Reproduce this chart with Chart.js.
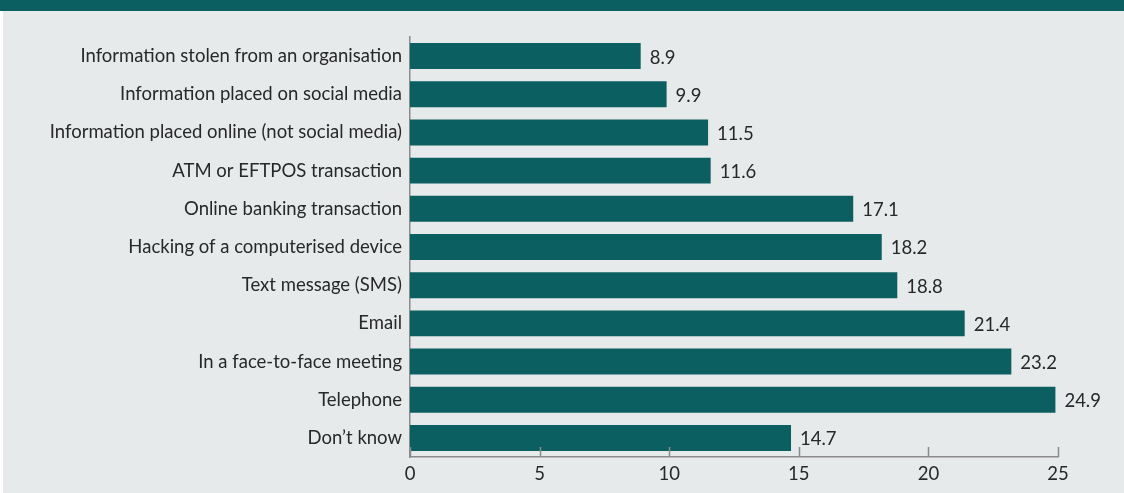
<!DOCTYPE html>
<html>
<head>
<meta charset="utf-8">
<script src="https://cdn.jsdelivr.net/npm/chart.js@4.4.1/dist/chart.umd.min.js"></script>
<style>
  html, body { margin: 0; padding: 0; background: #ffffff; }
  #frame { position: relative; width: 1124px; height: 493px; overflow: hidden; }
  #band { position: absolute; left: 0; top: 0; width: 1124px; height: 11px; background: #0c5f60; }
  #panel { position: absolute; left: 3px; top: 11px; width: 1121px; height: 482px; background: #e6eaea; }
  canvas { display: block; }
</style>
</head>
<body>
<div id="frame">
  <div id="band"></div>
  <div id="panel"><canvas id="chart" width="1121" height="482"></canvas></div>
</div>
<script>
// Ways personal information was obtained (%)
const categories = [
  "Information stolen from an organisation",
  "Information placed on social media",
  "Information placed online (not social media)",
  "ATM or EFTPOS transaction",
  "Online banking transaction",
  "Hacking of a computerised device",
  "Text message (SMS)",
  "Email",
  "In a face-to-face meeting",
  "Telephone",
  "Don\u2019t know"
];
const percentages = [8.9, 9.9, 11.5, 11.6, 17.1, 18.2, 18.8, 21.4, 23.2, 24.9, 14.7];
const xTickValues = [0, 5, 10, 15, 20, 25];

const TEAL = "#0c5f60";
const TEXT = "#282828";
const AXIS = "#8a8a8a";
const FONT = "Lato, 'Open Sans', sans-serif";
const FONT_SIZE = 18.5;

// Value labels at the end of each bar
const valueLabels = {
  id: "valueLabels",
  afterDatasetsDraw(chart) {
    const ctx = chart.ctx;
    const meta = chart.getDatasetMeta(0);
    ctx.save();
    ctx.font = FONT_SIZE + "px " + FONT;
    ctx.fillStyle = TEXT;
    ctx.textAlign = "left";
    ctx.textBaseline = "middle";
    meta.data.forEach((bar, i) => {
      ctx.fillText(percentages[i].toFixed(1), bar.x + 9, bar.y + 1.5);
    });
    ctx.restore();
  }
};

// Short tick marks rising from the value axis
const innerTicks = {
  id: "innerTicks",
  afterDraw(chart) {
    const ctx = chart.ctx;
    const xs = chart.scales.x;
    const bottom = chart.chartArea.bottom;
    ctx.save();
    ctx.strokeStyle = AXIS;
    ctx.lineWidth = 1.5;
    xTickValues.forEach(v => {
      const px = Math.round(xs.getPixelForValue(v)) + 0.5;
      ctx.beginPath();
      ctx.moveTo(px, bottom);
      ctx.lineTo(px, bottom - 10);
      ctx.stroke();
    });
    ctx.restore();
  }
};

new Chart(document.getElementById("chart"), {
  type: "bar",
  data: {
    labels: categories,
    datasets: [{
      data: percentages,
      backgroundColor: TEAL,
      borderWidth: 0,
      categoryPercentage: 1.0,
      barPercentage: 0.68
    }]
  },
  options: {
    indexAxis: "y",
    responsive: false,
    animation: false,
    layout: { padding: { top: 26, right: 66, bottom: 0, left: 0 } },
    plugins: {
      legend: { display: false },
      tooltip: { enabled: false }
    },
    scales: {
      x: {
        min: 0,
        max: 25,
        afterBuildTicks(scale) {
          scale.ticks = xTickValues.map(v => ({ value: v }));
        },
        afterFit(scale) { scale.height = 36; },
        grid: { display: false, drawTicks: false },
        border: { display: true, color: AXIS, width: 1.5 },
        ticks: {
          padding: 6,
          color: TEXT,
          font: { family: FONT, size: FONT_SIZE }
        }
      },
      y: {
        afterFit(scale) { scale.width = 407; },
        grid: { display: false, drawTicks: false },
        border: { display: true, color: AXIS, width: 1.5 },
        ticks: {
          padding: 8,
          color: TEXT,
          font: { family: FONT, size: FONT_SIZE }
        }
      }
    }
  },
  plugins: [valueLabels, innerTicks]
});
</script>
</body>
</html>
